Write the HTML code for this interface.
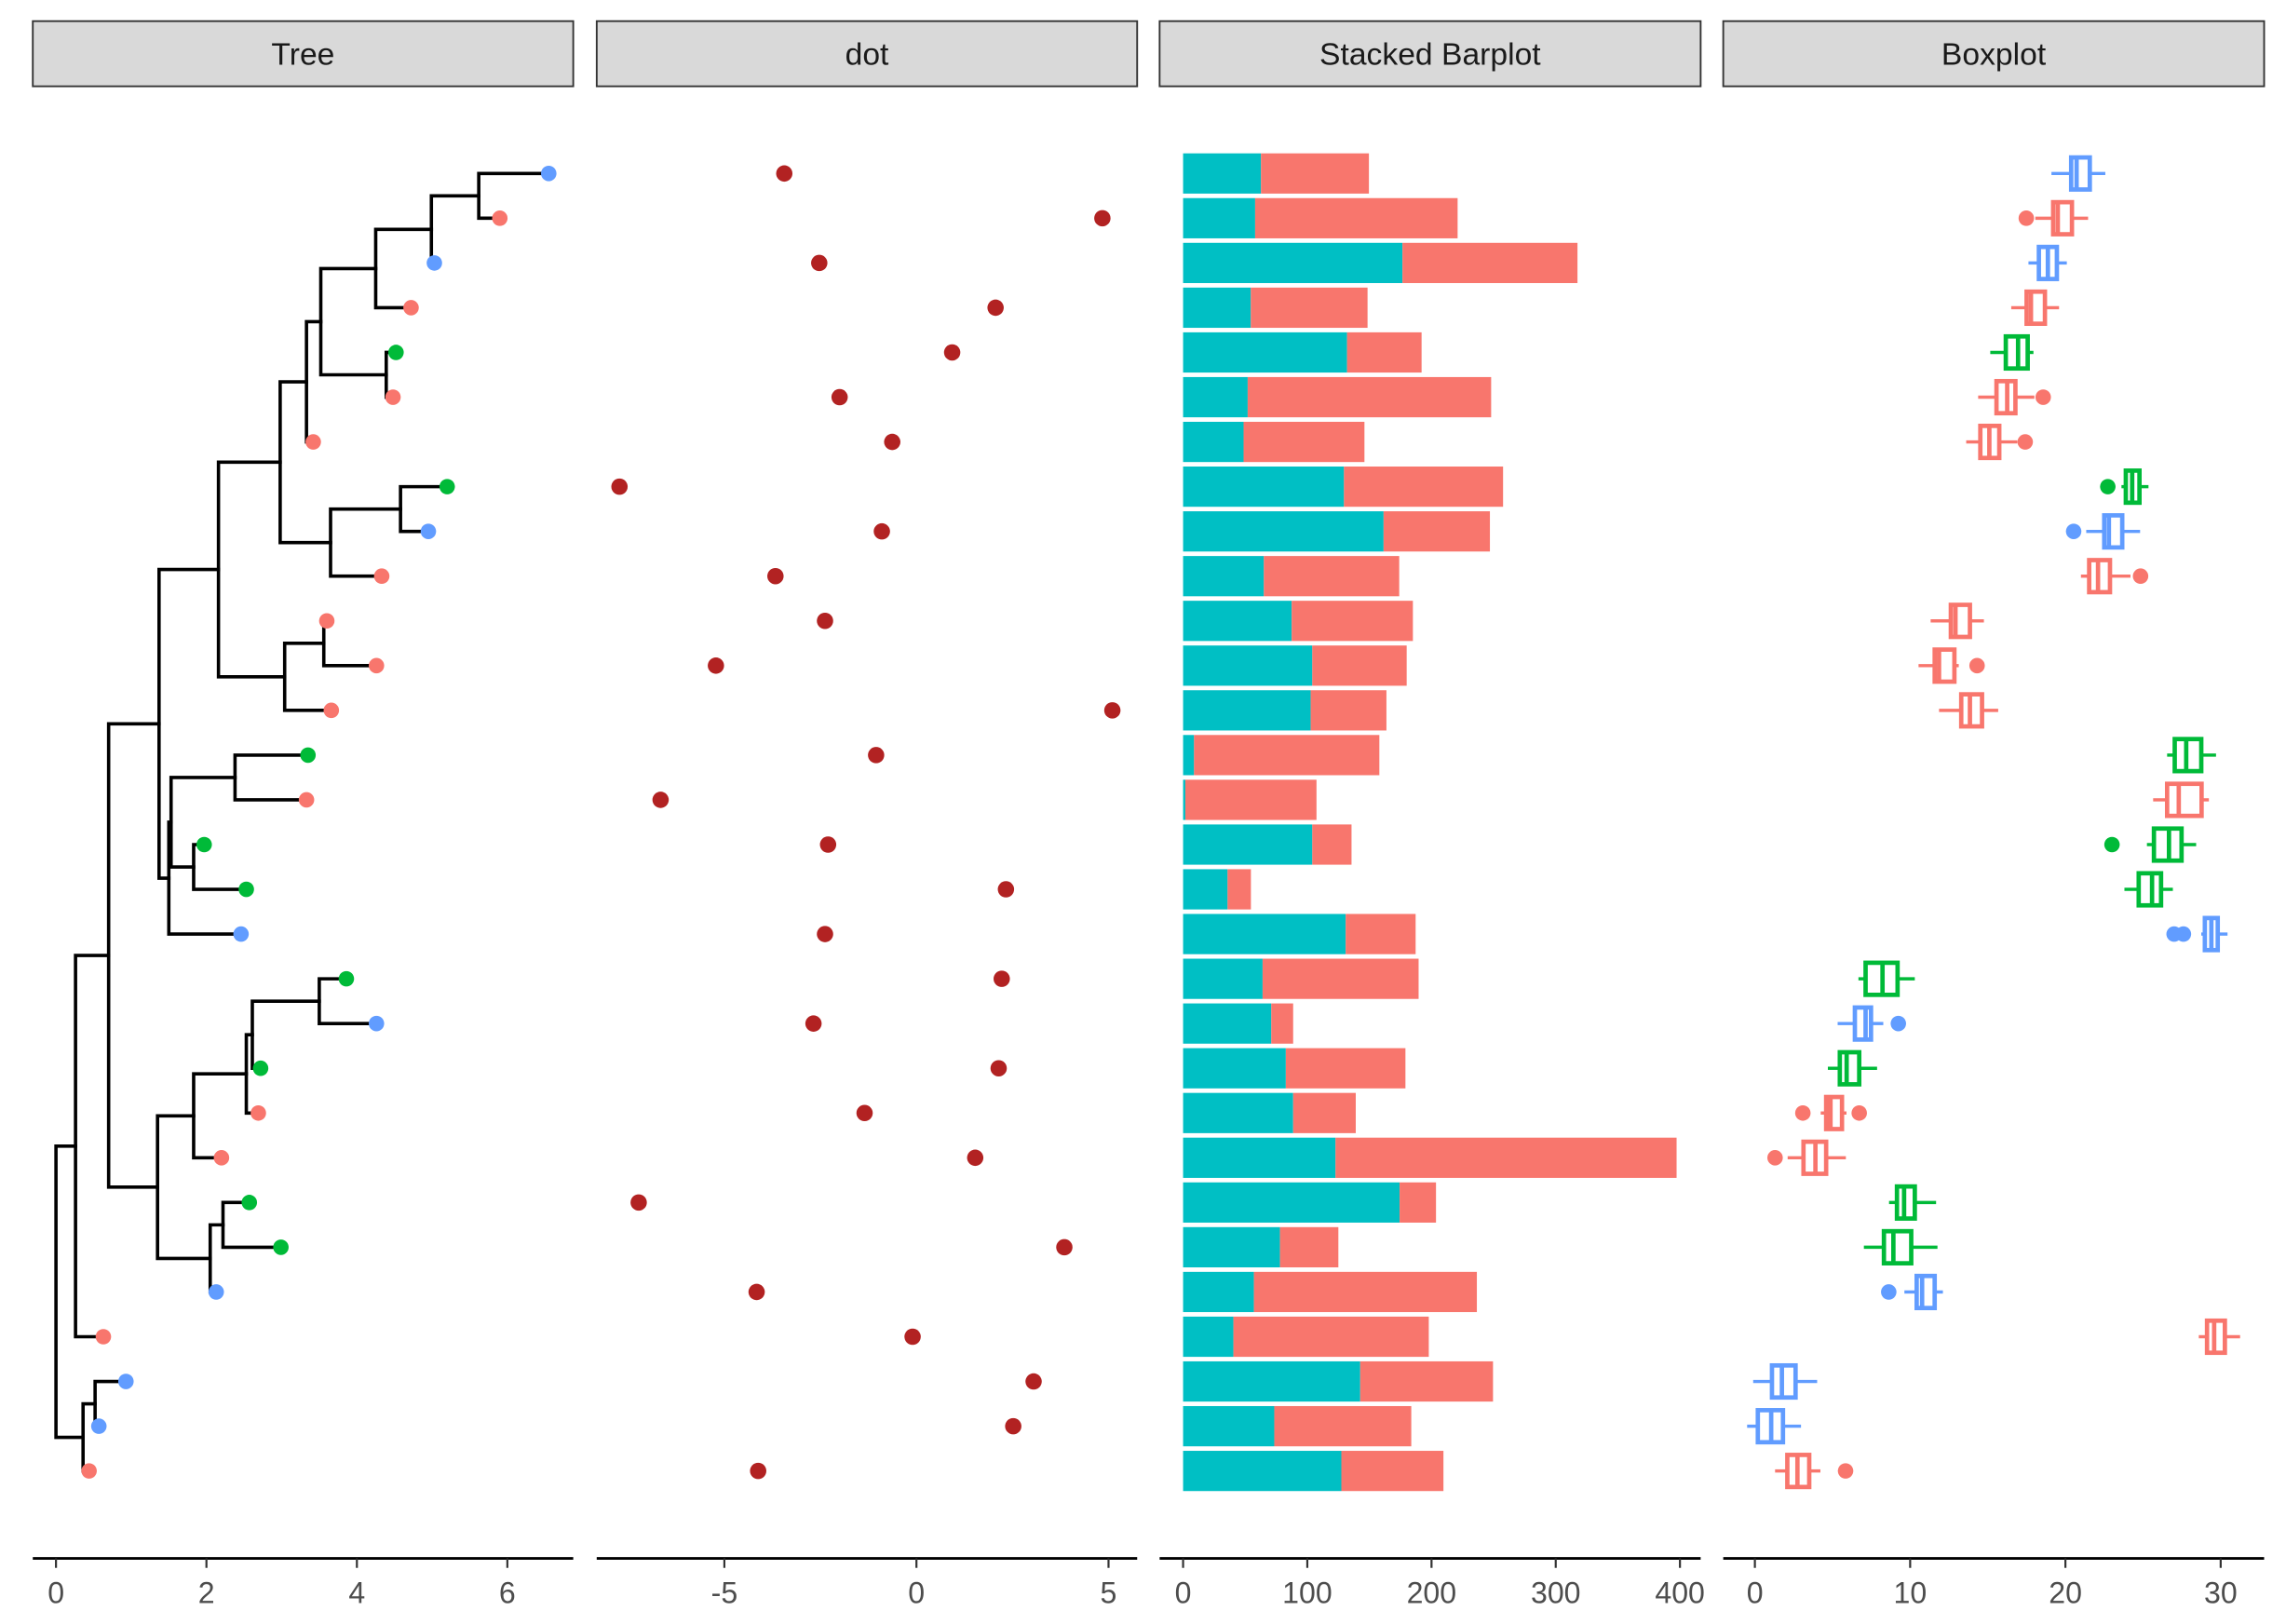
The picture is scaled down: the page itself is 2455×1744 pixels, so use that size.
<!DOCTYPE html>
<html><head><meta charset="utf-8"><style>
html,body{margin:0;padding:0;background:#fff;}
svg{display:block;}
text{font-family:"Liberation Sans",Arial,sans-serif;}
</style></head><body>
<svg id="chart" width="2455" height="1744" viewBox="0 0 1568 1114" preserveAspectRatio="none" xmlns="http://www.w3.org/2000/svg">
<rect x="0" y="0" width="1568" height="1114" fill="#fff"/>
<g id="strips"></g>
<g id="tree"></g>
<g id="dots"></g>
<g id="bars"></g>
<g id="boxes"></g>
<g id="axes"></g>
</svg>
<script>
// ---------- data ----------
const tipX = [6.55,5.9,5.03,4.72,4.52,4.48,3.42,5.2,4.95,4.33,3.6,4.26,3.66,3.35,3.33,1.97,2.53,2.46,3.86,4.26,2.72,2.69,2.2,2.57,2.99,2.13,0.63,0.93,0.57,0.44];
const tipGroup = ['B','A','B','A','C','A','A','C','B','A','A','A','A','C','A','C','C','B','C','B','C','A','A','C','C','B','A','B','B','A'];
const treeNodes = [
 ['n1',5.62,'t1','t2'],['n2',4.99,'n1','t3'],['n3',4.25,'n2','t4'],['n4',4.39,'t5','t6'],
 ['n5',3.52,'n3','n4'],['n6',3.33,'n5','t7'],['n7',4.58,'t8','t9'],['n8',3.65,'n7','t10'],
 ['n9',2.98,'n6','n8'],['n10',3.56,'t11','t12'],['n11',3.04,'n10','t13'],['n12',2.16,'n9','n11'],
 ['n13',2.38,'t14','t15'],['n14',1.83,'t16','t17'],['n15',1.53,'n13','n14'],['n16',1.50,'n15','t18'],
 ['n17',1.37,'n12','n16'],['n18',3.50,'t19','t20'],['n19',2.61,'n18','t21'],['n20',2.53,'n19','t22'],
 ['n21',1.83,'n20','t23'],['n22',2.22,'t24','t25'],['n23',2.05,'n22','t26'],['n24',1.35,'n21','n23'],
 ['n25',0.70,'n17','n24'],['n26',0.26,'n25','t27'],['n27',0.52,'t28','t29'],['n28',0.36,'n27','t30'],
 ['n29',0,'n26','n28']
];
const dotValues = [-3.44,4.84,-2.53,2.06,0.93,-2.0,-0.63,-7.73,-0.9,-3.67,-2.38,-5.22,5.10,-1.05,-6.66,-2.30,2.33,-2.38,2.22,-2.68,2.14,-1.35,1.53,-7.23,3.85,-4.16,-0.1,3.05,2.52,-4.12];
const barTeal = [62.7,58,176.6,54.5,132,52,48.7,129.5,161.4,65,87.4,104,102.7,8.8,1.8,104,35.8,130.9,64,71,82.7,88.6,122.7,174.3,78,57,40.5,142.6,73.4,127.4];
const barRed = [86.9,163,140.9,94,60,196,97.3,128.1,85.6,109,97.6,76,61,149.2,105.6,31.6,18.8,56.3,125.6,17.6,96.3,50.4,274.6,29.3,47,179.5,157.3,106.9,110.3,82.2];
const boxGroup = ['B','A','B','A','C','A','A','C','B','A','A','A','A','C','A','C','C','B','C','B','C','A','A','C','C','B','A','B','B','A'];
const boxLo  = [19.1,18.06,17.62,16.51,15.16,14.38,13.61,23.61,21.34,21.0,11.32,10.54,11.86,26.55,25.65,25.25,23.8,28.75,6.67,5.33,4.7,4.24,2.11,8.64,7.02,9.63,28.59,-0.11,-0.5,1.3];
const boxQ1  = [20.37,19.21,18.29,17.5,16.16,15.56,14.52,23.89,22.5,21.53,12.62,11.58,13.29,27.04,26.55,25.7,24.72,28.98,7.13,6.44,5.47,4.59,3.13,9.15,8.31,10.42,29.12,1.1,0.19,2.09];
const boxMed = [20.72,19.51,18.87,17.78,16.95,16.25,15.1,24.3,22.8,22.1,12.92,11.86,13.85,27.78,27.3,26.67,25.58,29.4,8.22,7.13,5.91,4.87,3.9,9.61,8.92,10.77,29.58,1.74,1.05,2.74];
const boxQ3  = [21.57,20.42,19.45,18.68,17.57,16.78,15.74,24.77,23.66,22.87,13.85,12.85,14.63,28.75,28.77,27.48,26.16,29.81,9.19,7.48,6.72,5.61,4.59,10.3,10.07,11.58,30.27,2.62,1.81,3.5];
const boxHi  = [22.57,21.46,20.09,19.59,17.94,18.0,16.9,25.35,24.81,24.19,14.75,13.13,15.67,29.7,29.24,28.42,26.92,30.44,10.3,8.27,7.87,5.9,5.86,11.67,11.76,12.11,31.25,4.01,2.97,4.22];
const boxOut = [[],[17.48],[],[],[],[18.57],[17.41],[22.73],[20.53],[24.84],[],[14.31],[],[],[],[23.0],[],[27.0,27.6],[],[9.24],[],[3.09,6.72],[1.30],[],[],[8.62],[],[],[],[5.84]];
const treeTicks = [0,2,4,6];
const dotTicks = [-5,0,5];
const barTicks = [0,100,200,300,400];
const boxTicks = [0,10,20,30];
const panelTitles = ['Tree','dot','Stacked Barplot','Boxplot'];

// ---------- scales ----------
const NS='http://www.w3.org/2000/svg';
const colors={A:'#F8766D',B:'#619CFF',C:'#00BA38'};
const rowY = i => 119 + i*30.69;
const xTree = v => 38.4 + v*51.6;
const xDot = v => 628.6 + v*26.35;
const xBar = v => 811.5 + v*0.852;
const xBox = v => 1203.7 + v*10.65;
const panels=[[22.5,393.2],[409.3,780],[795.4,1166.5],[1182,1553]];
function mk(tag,attrs,parent){const e=document.createElementNS(NS,tag);for(const k in attrs)e.setAttribute(k,attrs[k]);parent.appendChild(e);return e;}

// strips
const strips=document.getElementById('strips');
panelTitles.forEach((t,i)=>{
  const [a,b]=panels[i];
  const r=mk('rect',{x:a,y:14.5,width:b-a,height:44.7,fill:'#D9D9D9',stroke:'#333333','stroke-width':1.2},strips);
  
  
  const tx=mk('text',{x:(a+b)/2,y:44.5,'text-anchor':'middle','font-size':21.5,fill:'#1A1A1A'},strips);
  tx.textContent=t;
  
  
});

// tree
const tree=document.getElementById('tree');
const pos={};
tipX.forEach((v,i)=>{pos['t'+(i+1)]={x:v,y:rowY(i)};});
treeNodes.forEach(n=>{const a=pos[n[2]],b=pos[n[3]];pos[n[0]]={x:n[1],y:(a.y+b.y)/2};});
treeNodes.forEach(n=>{
  const p=pos[n[0]],a=pos[n[2]],b=pos[n[3]];
  const d=`M${xTree(p.x)},${a.y}V${b.y}M${xTree(p.x)},${a.y}H${xTree(a.x)}M${xTree(p.x)},${b.y}H${xTree(b.x)}`;
  const e=mk('path',{d:d,stroke:'#000',fill:'none','stroke-width':2.3,'stroke-linecap':'square'},tree);
  
  
});
tipX.forEach((v,i)=>{
  const c=mk('circle',{cx:xTree(v),cy:rowY(i),r:5.3,fill:colors[tipGroup[i]]},tree);
  
  
});

// dots
const dots=document.getElementById('dots');
dotValues.forEach((v,i)=>{
  const c=mk('circle',{cx:xDot(v),cy:rowY(i),r:5.6,fill:'#B22222'},dots);
  
  
});

// bars
const bars=document.getElementById('bars');
barTeal.forEach((v,i)=>{
  const y=rowY(i)-13.8;
  const r1=mk('rect',{x:xBar(0),y:y,width:xBar(v)-xBar(0),height:27.6,fill:'#00BFC4'},bars);
  
  
  const r2=mk('rect',{x:xBar(v),y:y,width:xBar(v+barRed[i])-xBar(v),height:27.6,fill:'#F8766D'},bars);
  
  
});

// boxes
const boxes=document.getElementById('boxes');
boxLo.forEach((lo,i)=>{
  const c=colors[boxGroup[i]],y=rowY(i);
  const g=mk('g',{},boxes);
  
  
  mk('line',{x1:xBox(lo),x2:xBox(boxQ1[i]),y1:y,y2:y,stroke:c,'stroke-width':2.2},g);
  mk('line',{x1:xBox(boxQ3[i]),x2:xBox(boxHi[i]),y1:y,y2:y,stroke:c,'stroke-width':2.2},g);
  mk('rect',{x:xBox(boxQ1[i]),y:y-11,width:xBox(boxQ3[i])-xBox(boxQ1[i]),height:22,fill:'#fff',stroke:c,'stroke-width':3},g);
  mk('line',{x1:xBox(boxMed[i]),x2:xBox(boxMed[i]),y1:y-11,y2:y+11,stroke:c,'stroke-width':3},g);
  boxOut[i].forEach(o=>{
    const p=mk('circle',{cx:xBox(o),cy:y,r:5.3,fill:c},g);
    
    
  });
});

// axes
const axes=document.getElementById('axes');
const tickSets=[[treeTicks,xTree],[dotTicks,xDot],[barTicks,xBar],[boxTicks,xBox]];
tickSets.forEach(([ticks,sc],i)=>{
  const [a,b]=panels[i];
  const l=mk('line',{x1:a,x2:b,y1:1069,y2:1069,stroke:'#000','stroke-width':1.8},axes);
  
  
  ticks.forEach(t=>{
    mk('line',{x1:sc(t),x2:sc(t),y1:1069,y2:1075.5,stroke:'#333','stroke-width':1.4},axes);
    const tx=mk('text',{x:sc(t),y:1099.5,'text-anchor':'middle','font-size':20.5,fill:'#4D4D4D'},axes);
    tx.textContent=String(t);
    
    
  });
});
</script>
</body></html>
